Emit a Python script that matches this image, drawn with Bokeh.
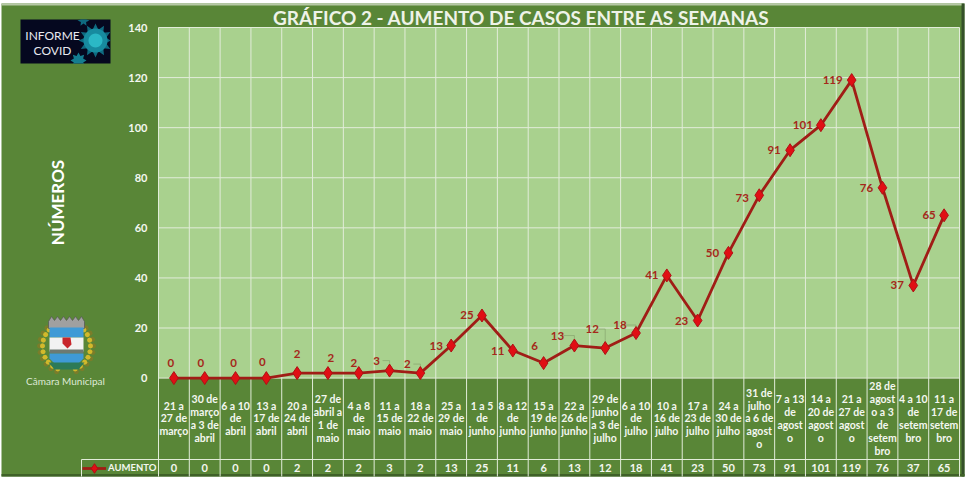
import numpy as np
from bokeh.plotting import figure
from bokeh.models import ColumnDataSource, LabelSet, FixedTicker, Range1d, Legend, LegendItem
from bokeh.core.properties import value
from bokeh.embed import file_html
from bokeh.resources import INLINE

periods = ["21 a\n27 de\nmarço", "30 de\nmarço\na 3 de\nabril", "6 a 10\nde\nabril", "13 a\n17 de\nabril",
           "20 a\n24 de\nabril", "27 de\nabril a\n1 de\nmaio", "4 a 8\nde\nmaio", "11 a\n15 de\nmaio",
           "18 a\n22 de\nmaio", "25 a\n29 de\nmaio", "1 a 5\nde\njunho", "8 a 12\nde\njunho",
           "15 a\n19 de\njunho", "22 a\n26 de\njunho", "29 de\njunho\na 3 de\njulho", "6 a 10\nde\njulho",
           "10 a\n16 de\njulho", "17 a\n23 de\njulho", "24 a\n30 de\njulho", "31 de\njulho\na 6 de\nagost\no",
           "7 a 13\nde\nagost\no", "14 a\n20 de\nagost\no", "21 a\n27 de\nagost\no",
           "28 de\nagost\no a 3\nde\nsetem\nbro", "4 a 10\nde\nsetem\nbro", "11 a\n17 de\nsetem\nbro"]
aumento = [0, 0, 0, 0, 2, 2, 2, 3, 2, 13, 25, 11, 6, 13, 12, 18, 41, 23, 50, 73, 91, 101, 119, 76, 37, 65]
y_ticks = [0, 20, 40, 60, 80, 100, 120, 140]

# label placement relative to each point (screen px)
label_dx = [-3, -4, -2, -4, 0, 3, -5, -13, -13, -15, -15, -15, -9, -17, -13, -16, -15, -16, -16, -17, -16, -18, -19, -16, -16, -15]
label_dy = [15, 15, 15, 16, 19, 15, 10, 10, 9, 0, 0, 0, 17, 10, 19, 8, 0, 0, 0, -3, 0, 0, 0, 0, 0, 0]
leaders = [7, 8, 13, 14, 15]

GREEN = "#598637"
PLOT = "#a9d18e"
WHITE = "#f4f7f0"
LINE = "#e2ecd9"
RED_TXT = "#a5281b"
FONT = "Lato"

W, H = 966, 478
n = len(periods)
# pixel geometry of the plot area on the canvas
PL, PR, PT, P0 = 158.0, 959.0, 27.0, 377.6
ppx = (PR - PL) / n
ppu = (P0 - PT) / 140

def dx(X):
    return (np.asarray(X, dtype=float) - PL) / ppx
def dy(Y):
    return (P0 - np.asarray(Y, dtype=float)) / ppu

p = figure(width=W, height=H, output_backend="svg", toolbar_location=None,
           x_range=Range1d(float(dx(0)), float(dx(W))), y_range=Range1d(float(dy(H)), float(dy(0))),
           background_fill_color="#ffffff", border_fill_color="#ffffff",
           min_border_left=0, min_border_right=0, min_border_top=0, min_border_bottom=0)
p.outline_line_color = None
p.xaxis.visible = False
p.grid.visible = False

def box(x0, x1, y0, y1, color, **kw):
    p.quad(left=[float(dx(x0))], right=[float(dx(x1))], top=[float(dy(y0))], bottom=[float(dy(y1))],
           fill_color=color, line_color=None, **kw)
def poly(xs, ys, fill, line=None):
    p.patch(list(dx(xs)), list(dy(ys)), fill_color=fill, line_color=line, line_width=0.7)
def disc(cx, cy, r, fill, k=28):
    t = np.linspace(0, 2 * np.pi, k, endpoint=False)
    poly(cx + r * np.cos(t), cy + r * np.sin(t), fill)
def spiky(cx, cy, r, R, fill, k=14, clip=(20, 110, 19, 63)):
    t = np.linspace(0, 2 * np.pi, 2 * k, endpoint=False)
    rr = np.where(np.arange(2 * k) % 2 == 0, R, r)
    poly(np.clip(cx + rr * np.cos(t), clip[0], clip[1]), np.clip(cy + rr * np.sin(t), clip[2], clip[3]), fill)
def txt(X, Y, s, color=WHITE, size="11px", style="normal", angle=0, align="center"):
    p.text([float(dx(X))], [float(dy(Y))], text=[s], text_color=color, text_font=value(FONT), text_font_size=size,
           text_font_style=style, text_align=align, text_baseline="middle", angle=angle)

# chart panel with its shadowed edges
box(1, 964, 3, 476, GREEN)
box(961, 964, 3, 476, "#35502a")
box(1, 964, 473.5, 476, "#3f6128")
box(1, 961, 3, 5, "#b7c9a6")
box(PL, PR, PT, P0, PLOT)

# grid and table rules
gx = np.arange(n + 1)
p.segment(x0=gx, x1=gx, y0=[float(dy(476))] * (n + 1), y1=[140] * (n + 1), line_color=LINE, line_width=1)
p.segment(x0=[0] * len(y_ticks), x1=[n] * len(y_ticks), y0=y_ticks, y1=y_ticks, line_color=LINE, line_width=1)
p.segment(x0=[float(dx(81))], x1=[n], y0=[float(dy(459))], y1=[float(dy(459))], line_color=LINE, line_width=1)
p.segment(x0=[float(dx(81))], x1=[float(dx(81))], y0=[float(dy(459))], y1=[float(dy(476))], line_color=LINE, line_width=1)

# real y axis, placed at the left edge of the plot area
ax = p.yaxis[0]
ax.fixed_location = 0
ax.ticker = FixedTicker(ticks=y_ticks)
ax.axis_line_color = None
ax.major_tick_line_color = None
ax.minor_tick_line_color = None
ax.major_label_text_color = WHITE
ax.major_label_text_font = FONT
ax.major_label_text_font_style = "bold"
ax.major_label_text_font_size = "11px"
ax.major_label_standoff = 5

xc = [i + 0.5 for i in range(n)]
src = ColumnDataSource(dict(x=xc, y=aumento, t=[str(v) for v in aumento], dx=label_dx, dy=label_dy, period=periods,
                            y1=[float(dy(418))] * n, y2=[float(dy(467.5))] * n))

# thin leader lines from some data labels
lx = [[xc[i] + (label_dx[i] + 6) / ppx, xc[i], xc[i]] for i in leaders]
ly = [[aumento[i] + label_dy[i] / ppu, aumento[i] + label_dy[i] / ppu, aumento[i]] for i in leaders]
p.multi_line(lx, ly, line_color="#86a56f", line_width=0.7)

line = p.line("x", "y", source=src, line_color="#a01d16", line_width=2.8)
pts = p.scatter("x", "y", source=src, marker="diamond", size=13, fill_color="#e00f14", line_color="#b01015")

p.add_layout(LabelSet(x="x", y="y", text="t", source=src, x_offset="dx", y_offset="dy",
                      text_color=RED_TXT, text_font=value(FONT), text_font_style="bold", text_font_size="11.5px",
                      text_align="center", text_baseline="middle"))

p.text("x", "y1", text="period", source=src, text_color=WHITE, text_font=value(FONT), text_font_style="bold",
       text_font_size="10.5px", text_line_height=1.08, text_align="center", text_baseline="middle")
p.text("x", "y2", text="t", source=src, text_color=WHITE, text_font=value(FONT), text_font_style="bold",
       text_font_size="11px", text_align="center", text_baseline="middle")

legend = Legend(items=[LegendItem(label="AUMENTO", renderers=[line, pts])], location=(80, -5.5),
                background_fill_alpha=0, border_line_alpha=0, label_text_color=WHITE, label_text_font=FONT,
                label_text_font_style="bold", label_text_font_size="9.5px", margin=0, padding=2,
                glyph_width=24, glyph_height=28, label_standoff=2)
p.add_layout(legend)

# Informe Covid badge
box(20, 110, 19, 63, "#05081f")
spiky(95, 40, 11, 17, "#0f6a80", k=12)
disc(95, 40, 12, "#178b9f")
disc(95, 40, 7, "#2bb8c6")
spiky(78, 60, 5, 8, "#147d90", k=8)
spiky(83, 20, 3, 6, "#0f6a80", k=6)
txt(52, 35, "INFORME", "#e8e8f0", "12px")
txt(52, 50, "COVID", "#e8e8f0", "12px")

# municipal crest
t = np.linspace(-1.25, 1.2, 11)
for s in (-1, 1):
    for r, col in ((27, "#7b7d2a"), (24, "#d2b92c")):
        for a in t:
            disc(66 + s * r * np.cos(a), 346 + r * np.sin(a), 2.6, col, k=8)
poly([48, 51, 54, 57, 60, 63, 66, 69, 72, 75, 78, 81, 84, 84, 48],
     [321, 316, 320, 316, 320, 316, 320, 316, 320, 316, 320, 316, 321, 328, 328], "#a0a0a0", "#555555")
poly([49, 83, 83, 49], [327, 327, 337, 337], "#3f9ad6")
poly([49, 83, 83, 49], [337, 337, 351, 351], "#f2f2f2")
poly([62, 70, 71, 67, 62], [337, 337, 344, 348, 343], "#c8262c")
poly([49, 83, 83, 49], [349, 349, 353, 353], "#6d7a72")
poly([49, 83, 83, 77, 66, 55, 49], [353, 353, 358, 364, 367, 364, 358], "#3f9ad6")
poly([48, 84, 78, 54], [362, 362, 369, 369], "#2d7a57")
txt(65, 380, "Câmara Municipal", "#dfe9d6", "10px")

txt(57, 202, "NÚMEROS", "#ffffff", "17px", "bold", angle=np.pi / 2)
txt(521, 16.5, "GRÁFICO 2 - AUMENTO DE CASOS ENTRE AS SEMANAS", "#eef3e8", "19px", "bold")

open("out.html", "w").write(file_html(p, INLINE))
